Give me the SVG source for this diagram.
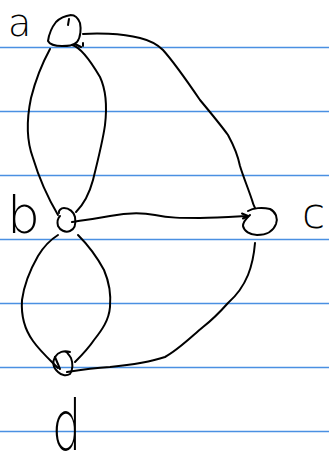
<svg xmlns="http://www.w3.org/2000/svg" width="329" height="469" viewBox="0 0 329 469">
<style>
.rule{stroke:#4a90e2;stroke-width:1.6}
.ink{fill:none;stroke:#000;stroke-width:2;stroke-linecap:round;stroke-linejoin:round}
.lbl{font-family:"DejaVu Sans","Liberation Sans",sans-serif;font-weight:200;fill:#000}
</style>
<rect width="329" height="469" fill="#fff"/>
<g id="paper">
<line class="rule" x1="0" y1="47.5" x2="329" y2="47.5"/>
<line class="rule" x1="0" y1="111.5" x2="329" y2="111.5"/>
<line class="rule" x1="0" y1="175.5" x2="329" y2="175.5"/>
<line class="rule" x1="0" y1="239.5" x2="329" y2="239.5"/>
<line class="rule" x1="0" y1="303.5" x2="329" y2="303.5"/>
<line class="rule" x1="0" y1="367.5" x2="329" y2="367.5"/>
<line class="rule" x1="0" y1="431.5" x2="329" y2="431.5"/>
</g>
<g id="connectors">
<path class="ink" d="M50,49 C44,60 36,78 31,98 C26,122 27,142 33,158 C39,178 48,198 58,215"/>
<path class="ink" d="M72,45 C80,47 90,60 100,77 C107,92 107,108 105,125 C103,140 98,160 93,180 C89,195 83,205 76,212"/>
<path class="ink" d="M83,34 C95,33 120,33 140,38 C152,41 158,45 163,50 C172,60 185,78 200,100 C210,112 220,124 228,135 C234,146 238,156 240,166 C243,176 248,188 252,200 C253,204 254,206 255,208"/>
<path class="ink" d="M72,222 C85,220 100,218 110,216 C125,213 140,212 155,215 C170,218 180,218 200,218 C215,218 230,217 247,216"/>
<path class="ink" d="M242,213.5 L248,216 L243,218.5"/>
<path class="ink" d="M58,235 C50,240 44,246 38,256 C30,270 24,285 22,300 C21,315 25,330 33,341 C40,351 50,360 58,368"/>
<path class="ink" d="M78,235 C88,245 97,257 104,270 C110,284 111,296 110,307 C109,320 102,330 94,340 C88,349 81,356 75,362"/>
<path class="ink" d="M255,243 C254,255 252,265 248,275 C243,287 236,296 228,303 C220,312 212,320 203,327 C190,338 178,350 165,357 C150,362 130,365 110,367 C95,368 80,370 67,372"/>
</g>
<g id="node-a">
<path class="ink" d="M71,15 C64,16 59,19 56,22 C52,27 49,34 48,41 C50,45 55,46 62,46 C68,46 73,46 77,42 C81,37 81,28 80,23 C78,18 75,15 71,15"/>
<path class="ink" d="M69,19 L68,25"/>
<path class="ink" d="M75,44 L81,47 M83,43 L83,46"/>
</g>
<g id="node-b">
<path class="ink" d="M59,213 C58,211 61,208 64,208 C69,208 74,212 75,217 C76,223 75,229 70,231 C65,233 60,230 58,226 C57,222 58,218 60,216"/>
</g>
<g id="node-c">
<path class="ink" d="M248,211 C253,208 262,207 270,209 C276,212 278,218 276,224 C273,232 266,235 257,235 C250,235 244,231 243,226 C243,221 247,218 250,215"/>
</g>
<g id="node-d">
<path class="ink" d="M70,352 C64,350 58,352 55,357 C52,362 53,368 58,372 C62,376 67,376 70,374 C73,370 73,363 71,358 C69,355 67,352 66,352"/>
<path class="ink" d="M55,357 L60,369"/>
</g>
<g id="labels">
<text class="lbl" x="8" y="36" font-size="38">a</text>
<text class="lbl" x="7" y="233" font-size="52">b</text>
<text class="lbl" x="302" y="228" font-size="42">c</text>
<text class="lbl" transform="translate(52,450) scale(1,1.5)" font-size="46">d</text>
</g>
</svg>
